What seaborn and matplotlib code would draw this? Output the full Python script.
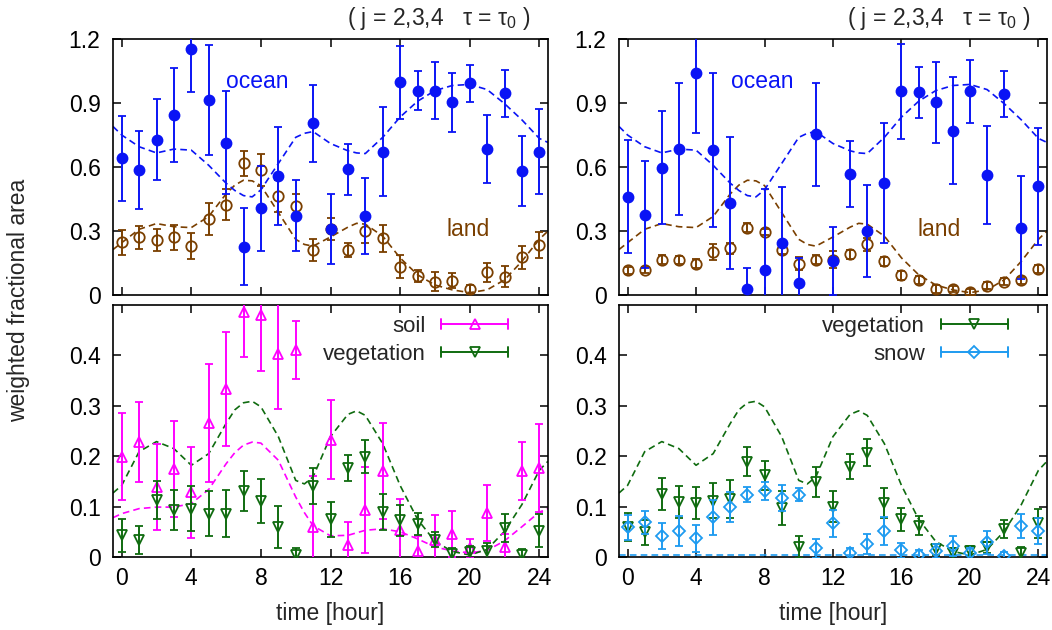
import numpy as np
import pandas as pd
import seaborn as sns
import matplotlib
matplotlib.use("Agg")
import matplotlib.pyplot as plt
from matplotlib.lines import Line2D
from matplotlib.legend_handler import HandlerBase

# ---------------- data ----------------
hours = list(range(25))

# top-left panel
ocean_L = [0.641, 0.586, 0.727, 0.842, 1.153, 0.914, 0.714, 0.226, 0.406, 0.558, 0.372, 0.805, 0.309,
           0.589, 0.370, 0.672, 0.997, 0.958, 0.958, 0.903, 0.992, 0.684, 0.945, 0.580, 0.672]
ocean_L_err = [0.20, 0.185, 0.19, 0.22, 0.20, 0.26, 0.24, 0.18, 0.20, 0.23, 0.165, 0.18, 0.165,
               0.12, 0.18, 0.21, 0.17, 0.09, 0.135, 0.137, 0.086, 0.16, 0.11, 0.165, 0.20]
land_L = [0.247, 0.27, 0.258, 0.27, 0.23, 0.356, 0.423, 0.617, 0.586, 0.466, 0.417, 0.211, 0.309,
          0.211, 0.30, 0.266, 0.133, 0.089, 0.063, 0.067, 0.027, 0.106, 0.086, 0.177, 0.234]
land_L_err = [0.058, 0.055, 0.05, 0.06, 0.06, 0.077, 0.073, 0.06, 0.076, 0.075, 0.055, 0.05, 0.05,
              0.035, 0.055, 0.063, 0.055, 0.026, 0.045, 0.035, 0.02, 0.043, 0.048, 0.053, 0.062]

# top-right panel
ocean_R = [0.461, 0.376, 0.597, 0.685, 1.039, 0.679, 0.431, 0.028, 0.115, 0.246, 0.055, 0.753, 0.158,
           0.568, 0.30, 0.524, 0.955, 0.95, 0.903, 0.771, 0.955, 0.561, 0.943, 0.316, 0.51]
ocean_R_err = [0.265, 0.25, 0.265, 0.31, 0.28, 0.36, 0.31, 0.10, 0.38, 0.26, 0.12, 0.24, 0.16,
               0.155, 0.217, 0.28, 0.223, 0.118, 0.19, 0.25, 0.147, 0.229, 0.107, 0.243, 0.274]
land_R = [0.115, 0.118, 0.166, 0.163, 0.147, 0.202, 0.218, 0.316, 0.294, 0.213, 0.147, 0.166, 0.166,
          0.19, 0.237, 0.158, 0.092, 0.071, 0.028, 0.028, 0.013, 0.044, 0.063, 0.068, 0.122]
land_R_err = [0.015, 0.015, 0.02, 0.02, 0.02, 0.038, 0.025, 0.02, 0.015, 0.022, 0.03, 0.02, 0.038,
              0.02, 0.03, 0.02, 0.02, 0.02, 0.02, 0.015, 0.015, 0.015, 0.015, 0.015, 0.02]

# bottom-left panel
soil = [0.199, 0.228, 0.139, 0.174, 0.128, 0.266, 0.334, 0.487, 0.48, 0.403, 0.411, 0.06, 0.233,
        0.023, 0.093, 0.171, 0.053, 0.012, 0.033, 0.046, 0.017, 0.087, 0.02, 0.171, 0.177]
soil_err = [0.086, 0.08, 0.085, 0.095, 0.09, 0.117, 0.113, 0.09, 0.11, 0.11, 0.058, 0.1, 0.079,
            0.047, 0.085, 0.095, 0.063, 0.03, 0.05, 0.046, 0.018, 0.055, 0.025, 0.058, 0.087]
veg_L = [0.043, 0.034, 0.113, 0.093, 0.096, 0.086, 0.086, 0.131, 0.111, 0.06, 0.003, 0.141, 0.075,
         0.177, 0.199, 0.089, 0.073, 0.065, 0.034, 0.005, 0.009, 0.012, 0.058, 0.003, 0.052]
veg_L_err = [0.033, 0.028, 0.037, 0.04, 0.045, 0.045, 0.046, 0.039, 0.043, 0.042, 0.015, 0.036, 0.035,
             0.026, 0.033, 0.036, 0.031, 0.022, 0.015, 0.012, 0.012, 0.015, 0.028, 0.012, 0.033]

# bottom-right panel
veg_R = [0.059, 0.049, 0.125, 0.109, 0.107, 0.112, 0.115, 0.189, 0.162, 0.097, 0.02, 0.149, 0.1,
         0.179, 0.207, 0.107, 0.075, 0.062, 0.015, 0.007, 0.011, 0.019, 0.055, 0.007, 0.067]
veg_R_err = [0.028, 0.025, 0.031, 0.031, 0.031, 0.035, 0.038, 0.029, 0.029, 0.034, 0.022, 0.029, 0.03,
             0.025, 0.027, 0.029, 0.023, 0.019, 0.011, 0.01, 0.01, 0.011, 0.018, 0.012, 0.029]
snow = [0.059, 0.069, 0.042, 0.051, 0.037, 0.079, 0.099, 0.124, 0.131, 0.117, 0.124, 0.017, 0.067,
        0.007, 0.025, 0.051, 0.013, 0.004, 0.012, 0.022, 0.007, 0.029, 0.002, 0.062, 0.052]
snow_err = [0.025, 0.023, 0.026, 0.03, 0.027, 0.035, 0.03, 0.014, 0.018, 0.025, 0.012, 0.019, 0.027,
            0.01, 0.02, 0.028, 0.015, 0.01, 0.013, 0.02, 0.01, 0.023, 0.008, 0.024, 0.026]

# model curves (dashed)
model_hours = [-0.5, 0, 1, 2, 3, 4, 5, 6, 6.5, 7, 7.5, 8, 9, 10, 10.5, 11, 12, 13, 13.5, 14,
               15, 16, 17, 18, 19, 20, 21, 22, 23, 24, 24.5]
ocean_model = [0.79, 0.75, 0.695, 0.666, 0.684, 0.679, 0.608, 0.524, 0.49, 0.466, 0.46, 0.493, 0.616,
               0.739, 0.758, 0.766, 0.71, 0.676, 0.666, 0.663, 0.739, 0.834, 0.908, 0.958, 0.982,
               0.987, 0.963, 0.897, 0.821, 0.734, 0.715]
land_model = [0.213, 0.245, 0.308, 0.335, 0.32, 0.316, 0.368, 0.474, 0.515, 0.538, 0.535, 0.513, 0.387,
              0.261, 0.237, 0.229, 0.272, 0.318, 0.336, 0.332, 0.276, 0.174, 0.095, 0.047, 0.024,
              0.011, 0.024, 0.071, 0.158, 0.261, 0.3]
veg_model = [0.127, 0.142, 0.209, 0.229, 0.215, 0.182, 0.205, 0.265, 0.292, 0.306, 0.309, 0.298, 0.239,
             0.152, 0.145, 0.159, 0.239, 0.283, 0.29, 0.281, 0.225, 0.142, 0.075, 0.031, 0.011,
             0.004, 0.015, 0.051, 0.104, 0.172, 0.19]
soil_model = [0.078, 0.086, 0.096, 0.099, 0.099, 0.106, 0.134, 0.185, 0.207, 0.222, 0.228, 0.226, 0.192,
              0.119, 0.088, 0.062, 0.042, 0.043, 0.048, 0.053, 0.056, 0.05, 0.036, 0.02, 0.012,
              0.008, 0.013, 0.032, 0.06, 0.089, 0.096]
snow_model = [0.003] * 31

x_ticks = [0, 4, 8, 12, 16, 20, 24]
top_yticks = [0, 0.3, 0.6, 0.9, 1.2]
top_yticklabels = ["0", "0.3", "0.6", "0.9", "1.2"]
bot_yticks = [0, 0.1, 0.2, 0.3, 0.4]
bot_yticklabels = ["0", "0.1", "0.2", "0.3", "0.4"]
title_text = "( j = 2,3,4   \u03c4 = \u03c4$_0$ )"

# ---------------- style ----------------
sns.set_theme(style="ticks")
plt.rcParams["font.family"] = ["Liberation Sans", "DejaVu Sans"]
plt.rcParams["mathtext.fontset"] = "custom"
plt.rcParams["mathtext.rm"] = "Liberation Sans"
plt.rcParams["mathtext.it"] = "Liberation Sans:italic"
plt.rcParams["mathtext.default"] = "regular"

C_OCEAN = "#0a14f5"
C_LAND = "#7a3f00"
C_SOIL = "#ff00ff"
C_VEG = "#0f6b0f"
C_SNOW = "#1e9bf0"

FS = 16.5

fig = plt.figure(figsize=(10.52, 6.3), dpi=100)
W, H = 1052, 630


def add_ax(x0, y0, x1, y1):
    return fig.add_axes([x0 / W, 1 - y1 / H, (x1 - x0) / W, (y1 - y0) / H])


ax_tl = add_ax(113, 39, 548, 295)
ax_tr = add_ax(619, 39, 1047, 295)
ax_bl = add_ax(113, 305, 548, 557)
ax_br = add_ax(619, 305, 1047, 557)


def model(ax, y, color):
    df = pd.DataFrame({"t": model_hours, "v": y})
    sns.lineplot(data=df, x="t", y="v", ax=ax, color=color, lw=1.2,
                 dashes=False, legend=False)
    ax.lines[-1].set_dashes((4, 2.5))


def points(ax, y, err, color, marker, filled, z=3, ms=7.5):
    ax.errorbar(hours, y, yerr=err, fmt=marker, color=color, ecolor=color,
                mfc=color if filled else "none", mec=color, ms=ms,
                mew=1.3, elinewidth=1.4, capsize=3.2, capthick=1.4, zorder=z)


# top-left
model(ax_tl, land_model, C_LAND)
points(ax_tl, land_L, land_L_err, C_LAND, "o", False)
model(ax_tl, ocean_model, C_OCEAN)
points(ax_tl, ocean_L, ocean_L_err, C_OCEAN, "o", True, z=4, ms=7.2)
ax_tl.text(7.8, 1.0, "ocean", color=C_OCEAN, fontsize=FS, ha="center", va="center")
ax_tl.text(19.9, 0.305, "land", color=C_LAND, fontsize=FS, ha="center", va="center")

# top-right
model(ax_tr, land_model, C_LAND)
points(ax_tr, land_R, land_R_err, C_LAND, "o", False)
model(ax_tr, ocean_model, C_OCEAN)
points(ax_tr, ocean_R, ocean_R_err, C_OCEAN, "o", True, z=4, ms=7.2)
ax_tr.text(7.85, 1.0, "ocean", color=C_OCEAN, fontsize=FS, ha="center", va="center")
ax_tr.text(18.2, 0.305, "land", color=C_LAND, fontsize=FS, ha="center", va="center")

# bottom-left
model(ax_bl, soil_model, C_SOIL)
model(ax_bl, veg_model, C_VEG)
points(ax_bl, soil, soil_err, C_SOIL, "^", False)
points(ax_bl, veg_L, veg_L_err, C_VEG, "v", False, z=4)

# bottom-right
model(ax_br, snow_model, C_SNOW)
model(ax_br, veg_model, C_VEG)
points(ax_br, veg_R, veg_R_err, C_VEG, "v", False)
points(ax_br, snow, snow_err, C_SNOW, "D", False, z=4, ms=6.2)


class HErr(HandlerBase):
    def __init__(self, color, marker, ms):
        super().__init__()
        self.c, self.m, self.ms = color, marker, ms

    def create_artists(self, legend, orig_handle, xdescent, ydescent, width, height, fontsize, trans):
        y = (height - ydescent) / 2
        x0, x1 = -xdescent, width - xdescent
        cap = 0.33 * height
        arts = [Line2D([x0, x1], [y, y], color=self.c, lw=1.4),
                Line2D([x0, x0], [y - cap, y + cap], color=self.c, lw=1.4),
                Line2D([x1, x1], [y - cap, y + cap], color=self.c, lw=1.4),
                Line2D([(x0 + x1) / 2], [y], marker=self.m, mfc="none", mec=self.c,
                       ms=self.ms, mew=1.3, ls="none")]
        for a in arts:
            a.set_transform(trans)
        return arts


def legend(ax, entries):
    hs = [Line2D([], []) for _ in entries]
    hm = {h: HErr(c, m, ms) for h, (lab, c, m, ms) in zip(hs, entries)}
    ax.legend(hs, [e[0] for e in entries], handler_map=hm, loc="upper right",
              bbox_to_anchor=(0.908, 0.957), frameon=False, markerfirst=False,
              fontsize=FS - 0.5, handlelength=3.0, handletextpad=0.72, labelspacing=0.3,
              borderpad=0.0, borderaxespad=0.0)


legend(ax_bl, [("soil", C_SOIL, "^", 7.5), ("vegetation", C_VEG, "v", 7.5)])
legend(ax_br, [("vegetation", C_VEG, "v", 7.5), ("snow", C_SNOW, "D", 6.2)])

for ax in (ax_tl, ax_tr, ax_bl, ax_br):
    ax.set_xlim(-0.5, 24.5)
    ax.set_xticks(x_ticks)
    ax.tick_params(direction="in", top=True, right=True, length=6, width=1.1,
                   labelsize=FS, pad=7, colors="black")
    ax.tick_params(axis="y", pad=9)
    for s in ax.spines.values():
        s.set_linewidth(1.2)
        s.set_color("black")
    ax.set_xlabel("")
    ax.set_ylabel("")

for ax in (ax_tl, ax_tr):
    ax.set_ylim(0, 1.2)
    ax.set_yticks(top_yticks)
    ax.set_yticklabels(top_yticklabels)
    ax.set_xticklabels([])

for ax in (ax_bl, ax_br):
    ax.set_ylim(0, 0.5)
    ax.set_yticks(bot_yticks)
    ax.set_yticklabels(bot_yticklabels)
    ax.set_xticklabels([str(t) for t in x_ticks])
    ax.set_xlabel("time [hour]", fontsize=FS, labelpad=9)

fig.text(19 / W, 1 - 300 / H, "weighted fractional area", rotation=90,
         ha="center", va="center", fontsize=FS)
fig.text(530 / W, 1 - 18 / H, title_text, ha="right", va="center", fontsize=FS)
fig.text(1030 / W, 1 - 18 / H, title_text, ha="right", va="center", fontsize=FS)

fig.savefig("out.png", dpi=100)
